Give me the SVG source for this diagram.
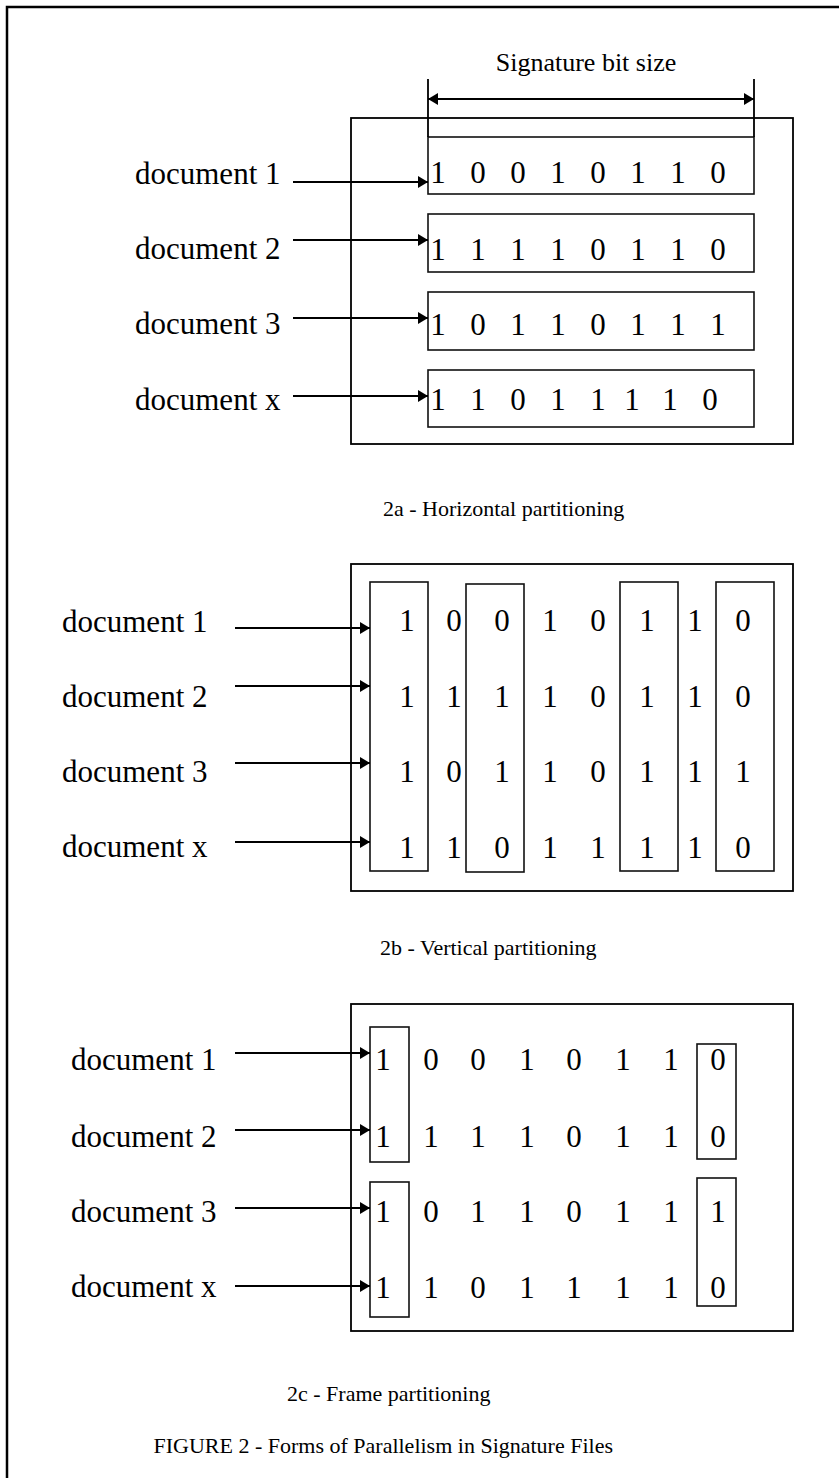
<svg xmlns="http://www.w3.org/2000/svg" width="839" height="1478" viewBox="0 0 839 1478">
  <style>
    text { font-family: "Liberation Serif", "Times New Roman", serif; fill: #000; }
    .lbl { font-size: 31px; }
    .bits { font-size: 31px; text-anchor: middle; }
    .cap { font-size: 22px; }
    .dim { font-size: 26px; text-anchor: middle; }
    .box { fill: none; stroke: #000; stroke-width: 1.8; }
    .cell { fill: none; stroke: #111; stroke-width: 1.6; }
    .wire { fill: none; stroke: #000; stroke-width: 1.8; }
  </style>
  <defs>
    <marker id="head" viewBox="0 0 10 12" refX="10" refY="6" markerWidth="10" markerHeight="12" markerUnits="userSpaceOnUse" orient="auto-start-reverse">
      <path d="M0,0 L10,6 L0,12 Z" fill="#000"/>
    </marker>
  </defs>

  <rect width="839" height="1478" fill="#fff"/>
  <!-- page frame -->
  <path d="M7,1478 V7 H839" fill="none" stroke="#000" stroke-width="2.5"/>

  <!-- 2a: horizontal partitioning -->
  <g id="part-2a">
    <text class="dim" x="586" y="71">Signature bit size</text>
    <rect class="box" x="351" y="118" width="442" height="326"/>
    <g id="row-2a-1">
      <rect class="cell" x="428" y="137" width="326" height="57"/>
      <text class="bits" x="438 478 518 558 598 638 678 718" y="183">10010110</text>
    </g>
    <g id="row-2a-2">
      <rect class="cell" x="428" y="214" width="326" height="58"/>
      <text class="bits" x="438 478 518 558 598 638 678 718" y="260">11110110</text>
    </g>
    <g id="row-2a-3">
      <rect class="cell" x="428" y="292" width="326" height="58"/>
      <text class="bits" x="438 478 518 558 598 638 678 718" y="335">10110111</text>
    </g>
    <g id="row-2a-x">
      <rect class="cell" x="428" y="370" width="326" height="57"/>
      <text class="bits" x="438 478 518 558 598 632 670 710" y="410">11011110</text>
    </g>
    <g id="labels-2a">
      <text class="lbl" x="135" y="184">document 1</text>
      <text class="lbl" x="135" y="259">document 2</text>
      <text class="lbl" x="135" y="334">document 3</text>
      <text class="lbl" x="135" y="410">document x</text>
    </g>
    <text class="cap" x="383" y="516">2a - Horizontal partitioning</text>
  </g>

  <!-- 2b: vertical partitioning -->
  <g id="part-2b">
    <rect class="box" x="351" y="564" width="442" height="327"/>
    <rect class="cell" x="370" y="582" width="58" height="289"/>
    <rect class="cell" x="466" y="584" width="58" height="288"/>
    <rect class="cell" x="620" y="582" width="58" height="289"/>
    <rect class="cell" x="716" y="582" width="58" height="289"/>
    <text class="bits" x="407 454 502 550 598 647 695 743" y="631">10010110</text>
    <text class="bits" x="407 454 502 550 598 647 695 743" y="707">11110110</text>
    <text class="bits" x="407 454 502 550 598 647 695 743" y="782">10110111</text>
    <text class="bits" x="407 454 502 550 598 647 695 743" y="858">11011110</text>
    <g id="labels-2b">
      <text class="lbl" x="62" y="632">document 1</text>
      <text class="lbl" x="62" y="707">document 2</text>
      <text class="lbl" x="62" y="782">document 3</text>
      <text class="lbl" x="62" y="857">document x</text>
    </g>
    <text class="cap" x="380" y="955">2b - Vertical partitioning</text>
  </g>

  <!-- 2c: frame partitioning -->
  <g id="part-2c">
    <rect class="box" x="351" y="1004" width="442" height="327"/>
    <rect class="cell" x="370" y="1027" width="39" height="135"/>
    <rect class="cell" x="370" y="1182" width="39" height="135"/>
    <rect class="cell" x="697" y="1044" width="39" height="115"/>
    <rect class="cell" x="697" y="1178" width="39" height="128"/>
    <text class="bits" x="383 431 478 527 574 623 671 718" y="1070">10010110</text>
    <text class="bits" x="383 431 478 527 574 623 671 718" y="1147">11110110</text>
    <text class="bits" x="383 431 478 527 574 623 671 718" y="1222">10110111</text>
    <text class="bits" x="383 431 478 527 574 623 671 718" y="1298">11011110</text>
    <g id="labels-2c">
      <text class="lbl" x="71" y="1070">document 1</text>
      <text class="lbl" x="71" y="1147">document 2</text>
      <text class="lbl" x="71" y="1222">document 3</text>
      <text class="lbl" x="71" y="1297">document x</text>
    </g>
    <text class="cap" x="287" y="1401">2c - Frame partitioning</text>
  </g>

  <text id="figure-caption" class="cap" x="613" y="1453" text-anchor="end">FIGURE 2 - Forms of Parallelism in Signature Files</text>

  <!-- connectors -->
  <g id="connectors">
    <!-- bit-size dimension -->
    <path class="wire" d="M428,79 V137 M754,79 V137"/>
    <path class="wire" d="M428,99 H754" marker-start="url(#head)" marker-end="url(#head)"/>
    <!-- 2a document arrows -->
    <path class="wire" d="M293,182 H428" marker-end="url(#head)"/>
    <path class="wire" d="M293,240 H428" marker-end="url(#head)"/>
    <path class="wire" d="M293,318 H428" marker-end="url(#head)"/>
    <path class="wire" d="M293,396 H428" marker-end="url(#head)"/>
    <!-- 2b document arrows -->
    <path class="wire" d="M235,628 H370" marker-end="url(#head)"/>
    <path class="wire" d="M235,686 H370" marker-end="url(#head)"/>
    <path class="wire" d="M235,763 H370" marker-end="url(#head)"/>
    <path class="wire" d="M235,842 H370" marker-end="url(#head)"/>
    <!-- 2c document arrows -->
    <path class="wire" d="M235,1053 H370" marker-end="url(#head)"/>
    <path class="wire" d="M235,1130 H370" marker-end="url(#head)"/>
    <path class="wire" d="M235,1208 H370" marker-end="url(#head)"/>
    <path class="wire" d="M235,1286 H370" marker-end="url(#head)"/>
  </g>
</svg>
